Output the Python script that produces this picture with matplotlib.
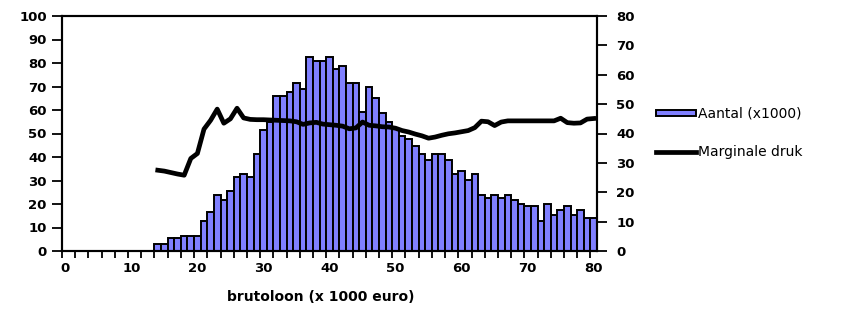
#Verdeling brutoloon en marginale druk
import matplotlib
matplotlib.use('Agg')
import matplotlib.pyplot as plt
import numpy as np

#categorieen: brutoloon in 1000 euro (elke staaf is 1000 euro breed)
loon = list(range(14, 81))

#aantal werknemers (x1000) per loonklasse
aantal = [2.8, 2.8, 5.4, 5.4, 6.5, 6.5, 6.5, 12.8, 16.6, 24.0,
          21.6, 25.4, 31.5, 32.8, 31.5, 41.3, 51.4, 55.0, 66.0, 66.0,
          67.5, 71.3, 68.9, 82.4, 81.0, 81.0, 82.4, 77.4, 78.7, 71.3,
          71.3, 59.0, 69.9, 64.9, 58.8, 55.1, 52.0, 49.0, 47.5, 44.7,
          41.2, 38.6, 41.2, 41.2, 38.7, 32.8, 34.0, 30.1, 32.7, 24.0,
          22.6, 24.0, 22.6, 24.0, 21.6, 20.2, 19.0, 19.0, 12.6, 20.2,
          15.2, 17.6, 19.0, 15.2, 17.6, 13.9, 13.9]

#marginale druk (%) per loonklasse
druk = [27.5, 27.2, 26.7, 26.2, 25.8, 31.5, 33.2, 41.5, 44.5, 48.3,
        43.5, 45.0, 48.6, 45.3, 44.8, 44.7, 44.7, 44.6, 44.5, 44.4,
        44.3, 44.0, 43.1, 43.6, 43.8, 43.2, 43.0, 42.8, 42.5, 41.6,
        41.9, 43.9, 42.8, 42.6, 42.3, 42.2, 41.8, 41.0, 40.5, 39.8,
        39.2, 38.4, 38.8, 39.4, 39.9, 40.2, 40.6, 41.0, 42.0, 44.2,
        44.0, 42.7, 43.9, 44.3, 44.3, 44.3, 44.3, 44.3, 44.3, 44.3,
        44.3, 45.2, 43.7, 43.5, 43.6, 44.9, 45.1]

xlabels = ['0', '10', '20', '30', '40', '50', '60', '70', '80']

plt.rcParams['font.family'] = 'DejaVu Sans'

fig = plt.figure(figsize=(8.53, 3.09), dpi=100)
ax = fig.add_axes([62/853, 1-251/309, 535/853, 235/309])
ax2 = ax.twinx()

x = np.array(loon) + 0.5
bars = ax.bar(x, aantal, width=1.0, color='#8080ff', edgecolor='black',
              linewidth=1.4, label='Aantal (x1000)')
lijn, = ax2.plot(x, druk, color='black', linewidth=3.4,
                 solid_joinstyle='round', label='Marginale druk')

ax.set_xlim(0, 81)
ax.set_ylim(0, 100)
ax2.set_ylim(0, 80)

#labels midden onder de klasse, streepjes om de 2 klassen
ax.set_xticks([int(s) + 0.5 for s in xlabels])
ax.set_xticklabels(xlabels)
ax.set_xticks(np.arange(0, 81, 2), minor=True)
ax.tick_params(axis='x', which='major', length=0, pad=8)
ax.tick_params(axis='x', which='minor', length=5, width=1.3, direction='out')

ax.set_yticks(np.arange(0, 101, 10))
ax2.set_yticks(np.arange(0, 81, 10))
ax.tick_params(axis='y', length=7, width=1.3, direction='out', pad=4)
ax2.tick_params(axis='y', length=7, width=1.3, direction='out', pad=7)

for lab in ax.get_xticklabels() + ax.get_yticklabels() + ax2.get_yticklabels():
    lab.set_fontsize(9.5)
    lab.set_fontweight('bold')

for a in (ax, ax2):
    for s in a.spines.values():
        s.set_linewidth(1.5)

ax.set_xlabel('brutoloon (x 1000 euro)', fontsize=10, fontweight='bold')
ax.xaxis.set_label_coords(0.484, -0.165)

#legenda rechts naast de grafiek
leg = fig.legend([bars, lijn], ['Aantal (x1000)', 'Marginale druk'],
                 loc='center left', bbox_to_anchor=(656/853, 1-133/309),
                 frameon=False, fontsize=10, handlelength=2.9,
                 handleheight=0.3, handletextpad=0.1, labelspacing=1.75,
                 borderpad=0, borderaxespad=0)

fig.savefig('out.png', dpi=100)
